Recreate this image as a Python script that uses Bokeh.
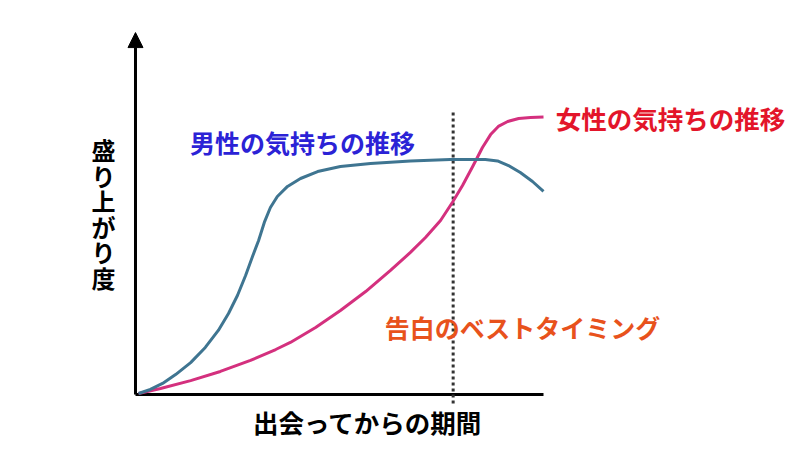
from bokeh.plotting import figure
from bokeh.models import Range1d, Arrow, NormalHead
from bokeh.core.properties import value
from bokeh.embed import file_html
from bokeh.resources import INLINE

# ---- data (x: 出会ってからの期間 0-100, y: 盛り上がり度) ----
male_x = [0.5, 3.4, 6.4, 9.6, 13.3, 16.9, 20.1, 22.6, 24.8, 26.8, 28.5, 30.0,
          31.4, 32.9, 34.6, 37.1, 40.3, 44.5, 50.1, 57.5, 67.3, 77.1, 85.7,
          88.7, 91.4, 94.3, 97.3, 100.0]
male_y = [0.4, 2.1, 4.6, 8.3, 13.3, 19.6, 26.7, 33.75, 41.25, 49.6, 57.5, 64.2,
          71.7, 77.9, 82.5, 86.7, 90.0, 92.9, 95.0, 96.25, 97.3, 97.9, 97.9,
          97.3, 95.4, 92.5, 88.75, 84.6]
female_x = [0.5, 5.9, 13.3, 20.6, 28.0, 34.2, 37.8, 44.0, 50.1, 56.3, 62.4,
            67.3, 71.0, 74.7, 77.6, 80.1, 82.6, 85.0, 87.0, 88.9, 91.2, 93.9,
            96.8, 100.0]
female_y = [0.4, 2.5, 5.8, 9.6, 14.2, 18.75, 21.7, 27.9, 35.0, 42.9, 51.7,
            59.2, 65.4, 72.5, 80.0, 87.1, 95.0, 102.9, 108.3, 111.7, 113.75,
            115.0, 115.4, 115.6]
best_timing_x = 77.8

male_label = "男性の気持ちの推移"
female_label = "女性の気持ちの推移"
timing_label = "告白のベストタイミング"
x_label = "出会ってからの期間"
y_label = "盛り上がり度"

# ---- layout constants ----
X_AXIS_END = 100.0
Y_AXIS_TOP = 150.8
AXIS_X = -0.25
FONT = value("Noto Sans CJK JP")

p = figure(width=792, height=442, x_range=Range1d(-33.42, 161.18),
           y_range=Range1d(-20.0, 164.17), output_backend="svg",
           toolbar_location=None, min_border=0)
p.axis.visible = False
p.grid.visible = False
p.outline_line_color = None
p.background_fill_color = "white"
p.border_fill_color = "white"

# axes
p.line([AXIS_X, X_AXIS_END], [0, 0], line_color="black", line_width=3)
p.add_layout(Arrow(end=NormalHead(size=15, fill_color="black", line_color="black"),
                   x_start=AXIS_X, y_start=0, x_end=AXIS_X, y_end=Y_AXIS_TOP,
                   line_color="black", line_width=3))

# best timing dotted line
p.line([best_timing_x, best_timing_x], [-3.75, 118.3], line_color="#333333",
       line_width=3, line_dash="3 3")

# curves
p.line(female_x, female_y, line_color="#d4307e", line_width=3, line_join="round")
p.line(male_x, male_y, line_color="#3f7591", line_width=3, line_join="round")

# labels
p.text([40.8], [105.4], text=[male_label], text_font=FONT, text_font_style="bold",
       text_font_size="25px", text_color="#2b22d6", text_align="center",
       text_baseline="middle")
p.text([131.2], [115.4], text=[female_label], text_font=FONT, text_font_style="bold",
       text_font_size="25.5px", text_color="#e3152a", text_align="center",
       text_baseline="middle")
p.text([94.8], [28.3], text=[timing_label], text_font=FONT, text_font_style="bold",
       text_font_size="25px", text_color="#e8521c", text_align="center",
       text_baseline="middle")
p.text([56.8], [-11.25], text=[x_label], text_font=FONT, text_font_style="bold",
       text_font_size="25.5px", text_color="black", text_align="center",
       text_baseline="middle")

# vertical y label, stacked characters
chars = list(y_label)
y0, step = 102.1, 10.67
p.text([-8.1] * len(chars), [y0 - i * step for i in range(len(chars))], text=chars,
       text_font=FONT, text_font_style="bold", text_font_size="24px",
       text_color="black", text_align="center", text_baseline="middle")

open("out.html", "w").write(file_html(p, INLINE))
